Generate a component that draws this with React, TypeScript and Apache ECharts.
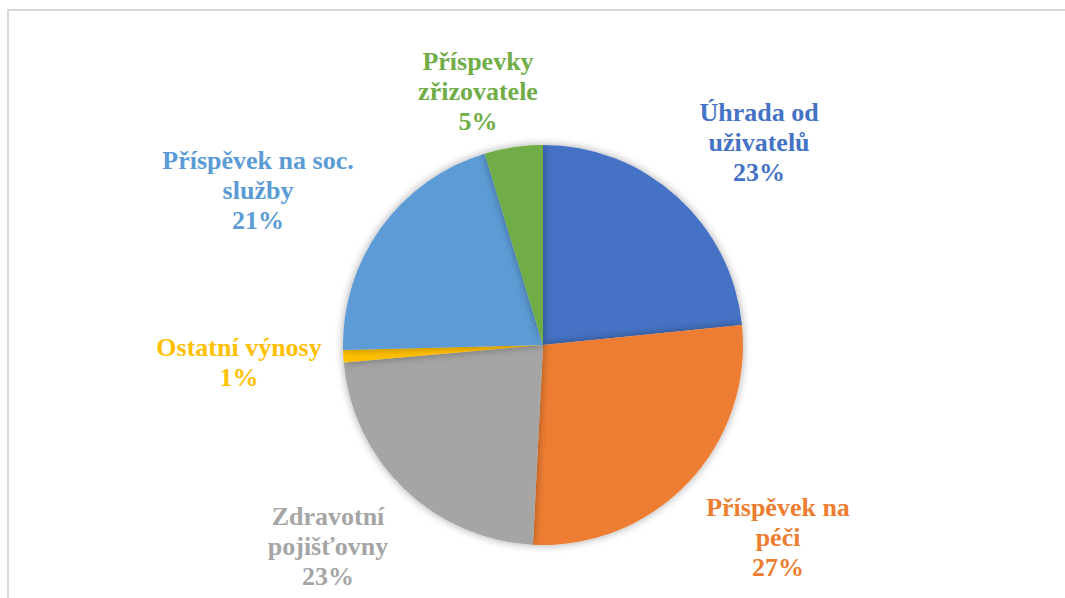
import React, { useEffect, useRef } from "react";
import * as echarts from "echarts";

// Categories (clockwise from 12 o'clock)
const categories = [
  "Úhrada od uživatelů",
  "Příspěvek na péči",
  "Zdravotní pojišťovny",
  "Ostatní výnosy",
  "Příspěvek na soc. služby",
  "Příspevky zřizovatele",
];
// Wrapped label text, as in the reference
const labelNames = [
  ["Úhrada od", "uživatelů"],
  ["Příspěvek na", "péči"],
  ["Zdravotní", "pojišťovny"],
  ["Ostatní výnosy"],
  ["Příspěvek na soc.", "služby"],
  ["Příspevky", "zřizovatele"],
];
// Share of income (%)
const values = [23.4, 27.4, 22.8, 1.0, 20.7, 4.7];

// Styling
const colors = ["#4472C4", "#ED7D31", "#A5A5A5", "#FFC000", "#5B9BD5", "#70AD47"];
const labelPositions: [number, number][] = [
  [759, 142],
  [778, 537],
  [328, 546],
  [239, 362],
  [258, 190],
  [478, 91],
];
const FONT = "bold 26px 'Liberation Serif'";
const LINE = 30;

export default function App() {
  const ref = useRef<HTMLDivElement>(null);
  useEffect(() => {
    if (!ref.current) return;
    const chart = echarts.init(ref.current, undefined, { renderer: "svg" });
    const total = values.reduce((a, b) => a + b, 0);
    const labelEls: any[] = [];
    values.forEach((v, i) => {
      const lines = [...labelNames[i], Math.round((v / total) * 100) + "%"];
      const n = lines.length;
      lines.forEach((line, k) => {
        labelEls.push({
          type: "text",
          x: labelPositions[i][0],
          y: labelPositions[i][1] + (k - (n - 1) / 2) * LINE,
          silent: true,
          style: {
            text: line,
            fill: colors[i],
            font: FONT,
            align: "center",
            verticalAlign: "middle",
          },
        });
      });
    });
    chart.setOption({
      animation: false,
      backgroundColor: "#ffffff",
      graphic: [
        {
          type: "rect",
          shape: { x: 8, y: 10, width: 1400, height: 900 },
          style: { fill: "none", stroke: "#d9d9d9", lineWidth: 2 },
          silent: true,
          z: -1,
        },
        ...labelEls,
      ],
      series: [
        {
          type: "pie",
          center: [543, 345],
          radius: 200,
          startAngle: 90,
          clockwise: true,
          emphasis: { disabled: true },
          itemStyle: {
            borderWidth: 0,
            shadowBlur: 8,
            shadowColor: "rgba(0,0,0,0.35)",
          },
          label: { show: false },
          labelLine: { show: false },
          data: categories.map((name, i) => ({
            name,
            value: values[i],
            itemStyle: { color: colors[i] },
          })),
        },
      ],
    });
    return () => chart.dispose();
  }, []);
  return (
    <div
      ref={ref}
      style={{ position: "absolute", left: 0, top: 0, width: 1065, height: 598 }}
    />
  );
}
